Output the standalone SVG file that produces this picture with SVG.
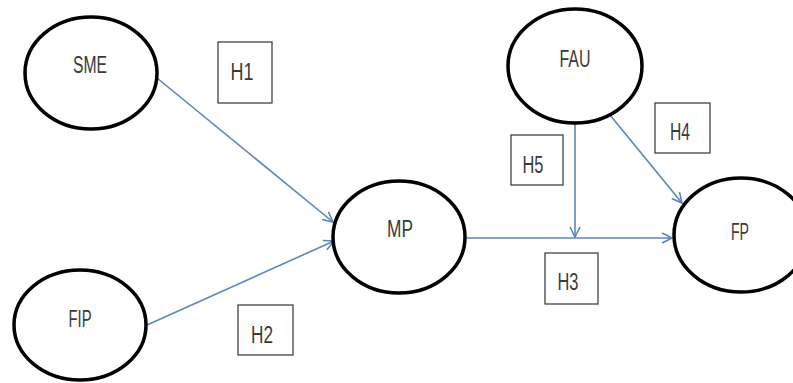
<svg xmlns="http://www.w3.org/2000/svg" width="793" height="383" viewBox="0 0 793 383">
<defs>
<marker id="arr" viewBox="0 0 12 12" refX="11" refY="6" markerWidth="12" markerHeight="12" markerUnits="userSpaceOnUse" orient="auto">
<path d="M1,1 L11,6 L1,11" fill="none" stroke="#5b86bb" stroke-width="1.6"/>
</marker>
</defs>
<style>
.node{fill:#fff;stroke:#000;stroke-width:3.5}
.box{fill:#fff;stroke:#333;stroke-width:1.2}
.lbl{font-family:"Liberation Sans",Arial,sans-serif;font-size:23px;fill:#3a3a3a;text-anchor:middle}
.edge{fill:none;stroke:#5b86bb;stroke-width:1.6;marker-end:url(#arr)}
</style>
<rect width="793" height="383" fill="#fff"/>
<g id="connectors">
<line class="edge" x1="157" y1="78" x2="333" y2="222"/>
<line class="edge" x1="147" y1="325" x2="334" y2="241"/>
<line class="edge" x1="465" y1="238" x2="672" y2="238"/>
<line class="edge" x1="575" y1="123" x2="575" y2="237"/>
<line class="edge" x1="610" y1="115" x2="682" y2="203"/>
</g>
<g id="SME"><ellipse class="node" cx="91" cy="73" rx="66" ry="56"/><text class="lbl" x="90" y="73" textLength="34" lengthAdjust="spacingAndGlyphs">SME</text></g>
<g id="FIP"><ellipse class="node" cx="80" cy="325" rx="66" ry="55"/><text class="lbl" x="80" y="327" textLength="23" lengthAdjust="spacingAndGlyphs">FIP</text></g>
<g id="MP"><ellipse class="node" cx="399" cy="237" rx="66" ry="56"/><text class="lbl" x="400" y="237" textLength="26" lengthAdjust="spacingAndGlyphs">MP</text></g>
<g id="FAU"><ellipse class="node" cx="575" cy="66" rx="67" ry="57"/><text class="lbl" x="575" y="67" textLength="31" lengthAdjust="spacingAndGlyphs">FAU</text></g>
<g id="FP"><ellipse class="node" cx="741" cy="235" rx="67" ry="57"/><text class="lbl" x="740" y="240" textLength="18" lengthAdjust="spacingAndGlyphs">FP</text></g>
<g id="H1"><rect class="box" x="218" y="42" width="54" height="61"/><text class="lbl" x="242" y="80" textLength="23" lengthAdjust="spacingAndGlyphs">H1</text></g>
<g id="H2"><rect class="box" x="238" y="305" width="55" height="50"/><text class="lbl" x="262" y="343" textLength="22" lengthAdjust="spacingAndGlyphs">H2</text></g>
<g id="H3"><rect class="box" x="545" y="253" width="53" height="51"/><text class="lbl" x="568" y="290" textLength="21" lengthAdjust="spacingAndGlyphs">H3</text></g>
<g id="H4"><rect class="box" x="655" y="103" width="55" height="50"/><text class="lbl" x="680" y="140" textLength="20" lengthAdjust="spacingAndGlyphs">H4</text></g>
<g id="H5"><rect class="box" x="511" y="135" width="52" height="50"/><text class="lbl" x="533" y="173" textLength="21" lengthAdjust="spacingAndGlyphs">H5</text></g>
</svg>
